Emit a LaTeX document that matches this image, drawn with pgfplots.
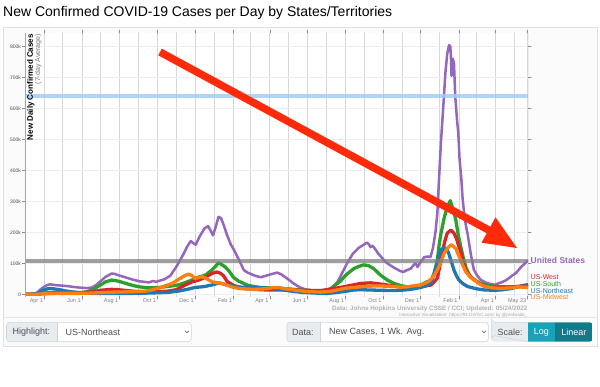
\documentclass[border=0pt]{standalone}
\usepackage{fontspec}
\setmainfont{Liberation Sans}
\usepackage{pgfplots}
\usepackage{pgfplotstable}
\pgfplotsset{compat=1.18}
\definecolor{cpurple}{HTML}{9467BD}
\definecolor{cred}{HTML}{D62728}
\definecolor{cgreen}{HTML}{2CA02C}
\definecolor{cblue}{HTML}{1F77B4}
\definecolor{corange}{HTML}{FF7F0E}
\definecolor{arrowred}{HTML}{FF2A0A}
\definecolor{hlblue}{HTML}{A3CDF2}
\definecolor{gridv}{HTML}{D8D8D8}
\definecolor{gridh}{HTML}{ECECF2}
\definecolor{bsgray}{HTML}{E9ECEF}
\definecolor{bsborder}{HTML}{CED4DA}
\definecolor{bstext}{HTML}{495057}
\definecolor{logbtn}{HTML}{17A2B8}
\definecolor{linbtn}{HTML}{117A8B}
\definecolor{cardbg}{HTML}{FBFBFC}

% day (days since 2020-03-01), value (thousands of cases)
\pgfplotstableread{
x y
0 0.05
10 0.3
17 2
21 8
25 16
31 25
36 30
40 32
45 31
52 29
60 28
70 26
81 23
92 21
100 20
108 22
115 30
122 42
130 56
140 67
145 66
150 62
157 58
165 53
173 48
185 42
194 40
200 38
207 43
212 40
216 43
225 48
235 60
245 90
255 125
262 153
268 172
272 165
276 160
282 185
290 212
296 220
300 206
304 190
308 215
313 250
317 246
321 225
327 190
333 160
338 143
345 115
354 78
360 70
366 65
372 60
381 55
390 60
400 66
408 70
414 65
424 51
435 34
445 22
455 15
467 12
480 12
489 14
497 23
505 38
512 65
521 100
530 130
540 150
548 160
553 167
556 162
559 152
562 157
565 150
572 130
580 112
586 100
596 87
607 75
612 72
618 78
624 83
629 95
632 100
635 88
640 104
646 120
652 122
656 120
660 150
664 200
667 260
670 380
673 495
677 615
680 712
683 775
686 804
688 800
689 770
690 705
691 740
692 760
694 745
696 640
699 560
701 520
703 436
706 370
708 307
710 270
713 225
716 195
721 132
726 80
731 62
737 47
745 38
753 33
760 31
770 38
778 45
786 57
795 70
802 87
808 98
813 108
}\tabUS

\pgfplotstableread{
x y
0 0
20 1
31 4
45 6
60 6
75 6
92 6
100 8
108 14
115 22
122 30
130 40
140 46
147 44
155 40
165 34
175 28
185 24
194 22
205 21
216 22
230 25
248 30
262 40
270 46
280 55
292 62
302 78
308 90
313 102
318 96
324 88
330 75
337 55
345 43
359 30
370 25
381 22
400 20
424 18
440 15
455 12
470 10
480 10
494 16
502 30
510 42
518 60
525 72
532 83
540 90
548 95
556 92
564 83
575 62
586 46
597 35
608 28
618 24
629 22
640 30
650 40
657 46
662 68
667 110
670 160
673 197
678 245
683 282
688 302
691 282
694 265
697 239
701 190
705 153
709 118
713 88
717 70
721 56
729 44
737 35
748 29
759 26
770 24
786 24
800 25
813 29
}\tabSouth

\pgfplotstableread{
x y
0 0
20 0.5
31 2
45 3
60 3.5
75 4
92 5
108 8
122 13
140 16
150 15
165 12
180 9
194 8
210 8
230 10
245 15
259 30
270 40
281 46
292 55
302 67
310 72
316 68
321 60
327 41
338 28
348 22
360 18
370 16
390 14
424 14
450 13
478 12
495 17
510 22
525 28
543 35
559 37
575 33
586 30
600 25
618 22
630 24
640 26
650 28
657 30
662 40
667 52
671 90
675 132
679 170
683 197
689 207
694 197
698 180
701 160
705 137
709 105
713 78
720 58
727 46
735 35
743 26
755 23
770 22
785 23
800 26
813 31
}\tabWest

\pgfplotstableread{
x y
0 0
15 1
22 5
28 12
35 17
40 19
45 18
55 15
65 11
75 8
85 6
95 4
108 3
130 2.5
150 3
175 3
200 4
216 5
235 7
250 11
262 16
275 22
290 25
302 30
313 36
318 35
327 30
337 26
350 23
370 22
390 20
402 18
415 15
435 9
450 6
478 3
490 3
505 6
520 10
532 14
545 15
555 14
575 13
595 12
608 13
620 15
630 18
640 22
650 28
656 35
660 55
665 89
669 120
673 143
677 150
681 148
685 135
689 110
694 78
698 60
702 46
708 35
716 25
730 18
743 14
760 13
770 14
785 18
797 24
813 27
}\tabNE

\pgfplotstableread{
x y
0 0
20 0.5
31 2
50 3
70 3
92 3
108 4
130 6
150 7.5
170 8
194 10
205 14
216 20
228 28
238 35
248 48
254 55
260 62
265 65
270 60
275 51
280 54
286 57
292 52
302 41
308 38
313 37
320 34
330 27
337 22
350 18
370 16
390 18
402 22
410 22
420 18
435 14
455 9
478 7
495 10
510 16
520 20
532 22
553 26
570 27
586 26
600 25
608 23
618 24
630 28
640 30
650 38
656 46
662 62
667 78
672 100
678 132
684 150
688 158
691 159
694 152
697 148
701 128
705 110
709 90
713 73
720 56
727 46
735 34
743 26
755 21
770 19
785 21
797 24
813 22
}\tabMW

\begin{document}
\begin{tikzpicture}
\useasboundingbox (0,0) rectangle (600pt,386pt);
\fill[white] (0,0) rectangle (600pt,386pt);
\begin{scope}[x=1pt,y=-1pt,shift={(0pt,386pt)}]
  \draw[black!12, fill=cardbg, line width=0.6pt] (3,27) rectangle (597,346);
  \draw[black!10, line width=0.6pt] (3,317.5) -- (597,317.5);
  \node[anchor=base west, inner sep=0] at (3,16.5) {\fontsize{14}{16}\selectfont New Confirmed COVID-19 Cases per Day by States/Territories};
\end{scope}

\begin{axis}[
  at={(25.14pt,89.84pt)}, anchor=south west,
  scale only axis, width=503pt, height=263.16pt,
  xmin=0, xmax=814, ymin=-6, ymax=842.9,
  axis line style={draw=none},
  axis background/.style={fill=white},
  xtick={31,92,153,214,275,337,396,457,518,579,640,702,761,813},
  xticklabels={Apr 1,Jun 1,Aug 1,Oct 1,Dec 1,Feb 1,Apr 1,Jun 1,Aug 1,Oct 1,Dec 1,Feb 1,Apr 1,May 23},
  minor xtick={61,122,184,245,306,365,426,487,549,610,671,730,791},
  xmajorgrids, xminorgrids, ymajorgrids,
  ytick={0,100,200,300,400,500,600,700,800},
  yticklabels={0,100k,200k,300k,400k,500k,600k,700k,800k},
  tick align=outside, major tick length=3pt, minor tick length=0pt,
  tick style={black!45, line width=0.5pt},
  xticklabel style={anchor=north east, inner sep=0pt, xshift=-1.2pt, yshift=1pt, text=black!50, font=\fontsize{5.5}{6}\selectfont},
  yticklabel style={anchor=east, inner sep=0pt, xshift=-1pt, text=black!70, font=\fontsize{5}{6}\selectfont},
  every major x grid/.style={gridv, line width=0.8pt},
  every minor x grid/.style={gridv, line width=0.8pt},
  every major y grid/.style={gridh, line width=0.7pt},
  line join=round, line cap=round,
]
\addplot[cpurple, line width=2.5pt] table {\tabUS};
\addplot[cgreen, line width=3.3pt] table {\tabSouth};
\addplot[cred, line width=3.3pt] table {\tabWest};
\addplot[cblue, line width=3.3pt] table {\tabNE};
\addplot[corange, line width=3.3pt] table {\tabMW};
\draw[hlblue, line width=4pt, opacity=0.85] (axis cs:0,640) -- (axis cs:814,640);
\draw[black!50, line width=4pt, opacity=0.75] (axis cs:0,106.5) -- (axis cs:814,106.5);
\draw[black!35, line width=1.6pt] (rel axis cs:0,0) -- (rel axis cs:0,1);
\draw[black!45, line width=0.8pt] (rel axis cs:1,0) -- (rel axis cs:1,1);
\end{axis}

\begin{scope}[x=1pt,y=-1pt,shift={(0pt,386pt)}]
  % y label
  \node[rotate=90, anchor=east, inner sep=0, font=\bfseries\fontsize{8}{9}\selectfont] at (30.7,34) {New Daily Confirmed Cases};
  \node[rotate=90, anchor=east, inner sep=0, text=black!55, font=\fontsize{7}{8}\selectfont] at (38.3,34) {(7-day Average)};
  % arrow
  \draw[arrowred, line width=7.5pt] (160,52) -- (489.5,230.5);
  \fill[arrowred] (517,248) -- (495.5,217.3) -- (481.5,242.7) -- cycle;
  % series labels
  \node[anchor=west, inner sep=0, text=cpurple, font=\bfseries\fontsize{8.5}{9}\selectfont] at (530.5,260) {United States};
  \node[anchor=west, inner sep=0, text=cred, font=\fontsize{7}{8}\selectfont] at (530.5,277) {US-West};
  \node[anchor=west, inner sep=0, text=cgreen, font=\fontsize{7}{8}\selectfont] at (530.5,283.8) {US-South};
  \node[anchor=west, inner sep=0, text=cblue, font=\fontsize{7}{8}\selectfont] at (530.5,290.6) {US-Northeast};
  \node[anchor=west, inner sep=0, text=corange, font=\fontsize{7}{8}\selectfont] at (530.5,297.4) {US-Midwest};
  % source
  \node[anchor=east, inner sep=0, text=black!30, font=\bfseries\fontsize{6.3}{7}\selectfont] at (527.7,309.3) {Data: Johns Hopkins University CSSE / CCI; Updated: 05/24/2022};
  \node[anchor=east, inner sep=0, text=black!35, font=\fontsize{4.5}{5}\selectfont] at (527.7,315.3) {Interactive Visualization: https://91-DIVOC.com/ by @profwade\_};
  % controls: highlight
  \begin{scope}
    \clip[rounded corners=3pt] (6.5,322.3) rectangle (191.3,341.7);
    \fill[bsgray] (6.5,322.3) rectangle (57,341.7);
    \fill[white] (57,322.3) rectangle (191.3,341.7);
  \end{scope}
  \draw[bsborder, rounded corners=3pt, line width=0.6pt] (6.5,322.3) rectangle (191.3,341.7);
  \draw[bsborder, line width=0.6pt] (57,322.3) -- (57,341.7);
  \node[anchor=west, inner sep=0, text=bstext, font=\fontsize{9}{10}\selectfont] at (12.5,332) {Highlight:};
  \node[anchor=west, inner sep=0, text=bstext, font=\fontsize{9}{10}\selectfont] at (65.5,332) {US-Northeast};
  \draw[bstext, line width=0.5pt] (185,330.8) -- (187,332.8) -- (189,330.8);
  % controls: data
  \begin{scope}
    \clip[rounded corners=3pt] (287,322.3) rectangle (488.3,341.7);
    \fill[bsgray] (287,322.3) rectangle (320.7,341.7);
    \fill[white] (320.7,322.3) rectangle (488.3,341.7);
  \end{scope}
  \draw[bsborder, rounded corners=3pt, line width=0.6pt] (287,322.3) rectangle (488.3,341.7);
  \draw[bsborder, line width=0.6pt] (320.7,322.3) -- (320.7,341.7);
  \node[anchor=west, inner sep=0, text=bstext, font=\fontsize{9}{10}\selectfont] at (292,332) {Data:};
  \node[anchor=west, inner sep=0, text=bstext, font=\fontsize{9}{10}\selectfont] at (329,332) {New Cases, 1 Wk. Avg.};
  \draw[bstext, line width=0.5pt] (482,330.8) -- (484,332.8) -- (486,330.8);
  % controls: scale
  \begin{scope}
    \clip[rounded corners=3pt] (491.7,322.3) rectangle (592.7,341.7);
    \fill[bsgray] (491.7,322.3) rectangle (527.7,341.7);
    \fill[logbtn] (527.7,322.3) rectangle (555,341.7);
    \fill[linbtn] (555,322.3) rectangle (592.7,341.7);
  \end{scope}
  \draw[bsborder, line width=0.6pt] (527.7,322.3) -- (494.7,322.3) arc[start angle=90,end angle=180,radius=3] -- (491.7,338.7) arc[start angle=180,end angle=270,radius=3] -- (527.7,341.7);
  \node[anchor=west, inner sep=0, text=bstext, font=\fontsize{9}{10}\selectfont] at (497.5,332) {Scale:};
  \node[inner sep=0, text=white, font=\fontsize{9}{10}\selectfont] at (541.4,332) {Log};
  \node[inner sep=0, text=white, font=\fontsize{9}{10}\selectfont] at (573.9,332) {Linear};
\end{scope}
\end{tikzpicture}
\end{document}
